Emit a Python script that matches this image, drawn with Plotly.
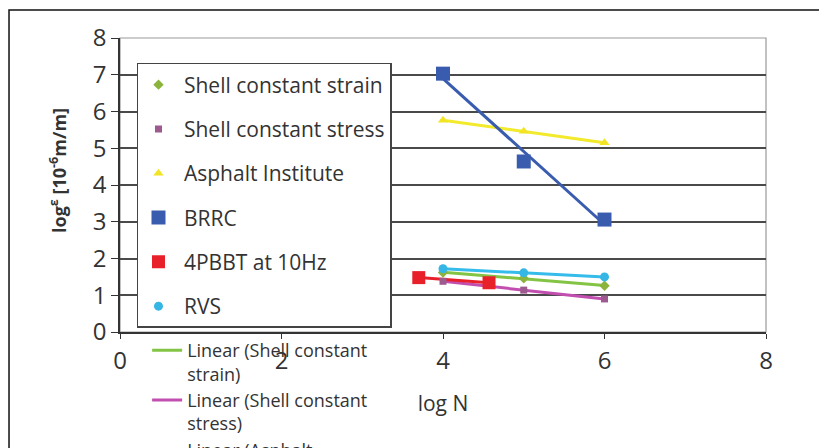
import numpy as np
import plotly.graph_objects as go

# ---- data ----
series_names = ["Shell constant strain", "Shell constant stress", "Asphalt Institute",
                "BRRC", "4PBBT at 10Hz", "RVS"]
x_shell_strain = [4, 5, 6]
y_shell_strain = [1.62, 1.46, 1.26]
x_shell_stress = [4, 5, 6]
y_shell_stress = [1.38, 1.14, 0.90]
x_asphalt = [4, 5, 6]
y_asphalt = [5.76, 5.46, 5.15]
x_brrc = [4, 5, 6]
y_brrc = [7.03, 4.64, 3.06]
x_4pbbt = [3.7, 4.57]
y_4pbbt = [1.48, 1.34]
x_rvs = [4, 5, 6]
y_rvs = [1.72, 1.61, 1.50]

trend_labels = ["Linear (Shell constant<br>strain)", "Linear (Shell constant<br>stress)",
                "Linear (Asphalt<br>Institute)", "Linear (BRRC)", "Linear (4PBBT at<br>10Hz)",
                "Linear (RVS)"]
x_ticks = [0, 2, 4, 6, 8]
y_ticks = [0, 1, 2, 3, 4, 5, 6, 7, 8]
x_title = "log N"
y_title = "<b>log<sup>ε</sup> [10<sup>-6</sup>m/m]</b>"

xs = [x_shell_strain, x_shell_stress, x_asphalt, x_brrc, x_4pbbt, x_rvs]
ys = [y_shell_strain, y_shell_stress, y_asphalt, y_brrc, y_4pbbt, y_rvs]

marker_colors = ["#8CB43C", "#9C5A8E", "#F2E424", "#3A5CAE", "#E8202A", "#36B6E4"]
line_colors = ["#84C444", "#C24EB0", "#F2EA2A", "#3A5CAE", "#E8202A", "#36BCEA"]
symbols = ["diamond", "square", "triangle-up", "square", "square", "circle"]
sizes = [8, 7, 9, 14, 13, 9]

fig = go.Figure()

# trendlines (drawn first so markers sit on top)
for i in range(6):
    xa = np.array(xs[i], dtype=float)
    ya = np.array(ys[i], dtype=float)
    k, b = np.polyfit(xa, ya, 1)
    xl = np.array([xa.min(), xa.max()])
    fig.add_trace(go.Scatter(
        x=xl, y=k * xl + b, mode="lines", name=trend_labels[i],
        line=dict(color=line_colors[i], width=3),
        legend="legend2", hoverinfo="skip"))

for i in range(6):
    fig.add_trace(go.Scatter(
        x=xs[i], y=ys[i], mode="markers", name="\u00a0" + series_names[i],
        legendgroup="g%d" % i,
        marker=dict(color=marker_colors[i], symbol=symbols[i], size=sizes[i],
                    line=dict(width=0)),
        legend="legend"))

font_family = "Open Sans, Liberation Sans, sans-serif"

# page has an 8px body margin, so the figure is 819x440 and offsets are shifted by 8px
fig.update_layout(
    width=819, height=440,
    margin=dict(l=112, r=61, t=30, b=116, autoexpand=False),
    paper_bgcolor="white", plot_bgcolor="white",
    font=dict(family=font_family, color="#333333"),
    showlegend=True,
    xaxis=dict(range=[0, 8], tickvals=x_ticks, showgrid=False, zeroline=False,
               showline=True, linecolor="#333333", linewidth=1.5,
               ticks="outside", ticklen=5, tickcolor="#333333", tickwidth=1.2,
               ticklabelstandoff=1, automargin=False,
               tickfont=dict(size=24, color="#333333"),
               title=dict(text=x_title, font=dict(size=21, color="#333333"), standoff=22)),
    yaxis=dict(range=[0, 8], tickvals=y_ticks, showgrid=True, gridcolor="#4a4a4a",
               gridwidth=1.5, zeroline=False, showline=True, linecolor="#333333",
               linewidth=1.5, ticks="outside", ticklen=7, tickcolor="#333333",
               tickwidth=1.2, tickfont=dict(size=24, color="#333333"), automargin=False),
    legend=dict(x=0.0263, y=0.915, xanchor="left", yanchor="top",
                bgcolor="white", bordercolor="#444444", borderwidth=1.5,
                font=dict(size=21, color="#333333"), tracegroupgap=14,
                itemsizing="trace", maxheight=1000),
    legend2=dict(x=0.042, y=0.0, xanchor="left", yanchor="top",
                 bgcolor="rgba(0,0,0,0)", borderwidth=0, valign="top",
                 font=dict(size=18, color="#333333"), tracegroupgap=0,
                 maxheight=1000),
    annotations=[
        dict(text=y_title, xref="paper", yref="paper", x=-0.096, y=0.551,
             xanchor="center", yanchor="middle", textangle=-90, showarrow=False,
             font=dict(size=18, color="#333333")),
    ],
    shapes=[
        dict(type="rect", xref="paper", yref="paper", x0=0, x1=1, y0=0, y1=1,
             line=dict(color="#9a9a9a", width=1.2), layer="below"),
        dict(type="rect", xref="paper", yref="paper", x0=-0.1718, x1=1.0867,
             y0=-0.45, y1=1.0952, line=dict(color="#111111", width=1.5)),
    ],
)

fig.write_html("out.html")
